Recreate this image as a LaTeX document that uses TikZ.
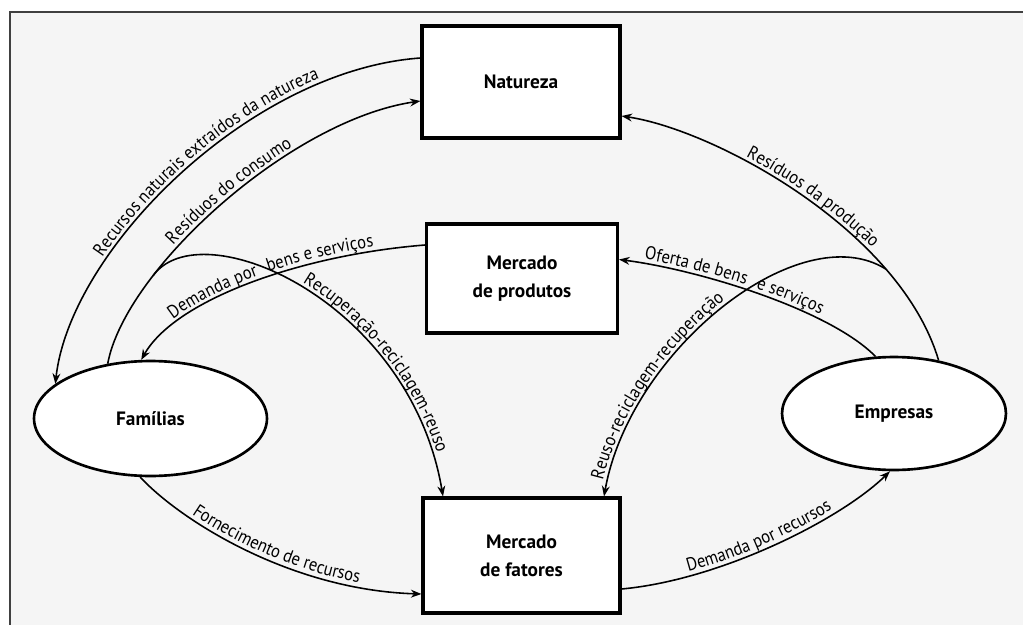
\documentclass[tikz,border=0pt]{standalone}
\usepackage{fontspec}
\setmainfont{PT Sans}[FakeStretch=0.9]
\newfontfamily\boxfont{PT Sans}
\usetikzlibrary{arrows.meta,shapes.geometric,decorations.text}

\newcommand{\lblfont}{\fontsize{10.5}{12}\selectfont}

\tikzset{
  box/.style={draw,line width=1.8pt,fill=white,inner sep=0pt,align=center,
    font=\boxfont\bfseries\fontsize{11}{16}\selectfont},
  oval/.style={ellipse,draw,line width=1.5pt,fill=white,inner sep=0pt,
    font=\boxfont\bfseries\fontsize{11}{16}\selectfont},
  flow/.style={line width=0.9pt,>={Stealth[length=6pt,width=4.5pt]}},
  flowtext/.style 2 args={postaction={decorate,decoration={text along path,
    raise=2.5pt,text align={#1},text={|\lblfont|#2}}}},
}

\begin{document}
\begin{tikzpicture}[x=0.02cm,y=0.02cm]
  \useasboundingbox (0,0) rectangle (1023,-625);
  \fill[black!4] (10,-12) rectangle (1023,-625);
  \draw[line width=1pt,black!75] (1023,-12) -- (10,-12) -- (10,-625);

  \node[box,minimum width=3.96cm,minimum height=2.24cm] (nat) at (521,-82) {Natureza};
  \node[box,minimum width=3.82cm,minimum height=2.18cm] (prod) at (522,-278.5) {Mercado\\de produtos};
  \node[box,minimum width=3.94cm,minimum height=2.3cm] (fat) at (521.5,-555.5) {Mercado\\de fatores};
  \node[oval,minimum width=4.66cm,minimum height=2.3cm] (fam) at (150.5,-418.5) {Famílias};
  \node[oval,minimum width=4.48cm,minimum height=2.26cm] (emp) at (894,-413.5) {Empresas};

  \draw[flow,<-,flowtext={center,left indent=0.64cm}{Recursos naturais extraídos da natureza}]
    (fam.160) .. controls (70,-250) and (250,-70) .. ([yshift=0.48cm]nat.west);
  \draw[flow,->,flowtext={center}{Resíduos do consumo}]
    (fam.128) .. controls (125,-270) and (290,-120) .. coordinate[pos=0.28] (rc) ([yshift=-0.38cm]nat.west);
  \draw[flow,<-,flowtext={center}{Demanda por{\hskip 6pt}bens e serviços}]
    (fam.99) .. controls (175,-300) and (300,-255) .. ([yshift=0.67cm]prod.west);
  \draw[flow,->,flowtext={left,left indent=3.2cm}{Recuperação-reciclagem-reuso}]
    (rc) .. controls (200,-210) and (410,-300) .. ([xshift=-1.57cm]fat.north);

  \draw[flow,<-,flowtext={center}{Resíduos da produção}]
    ([yshift=-0.68cm]nat.east) .. controls (715,-130) and (900,-230) .. coordinate[pos=0.75] (rr) (emp.50);
  \draw[flow,<-,flowtext={center,right indent=0.88cm}{Oferta de bens{\hskip 6pt}e serviços}]
    ([yshift=0.38cm]prod.east) .. controls (700,-270) and (830,-310) .. (emp.108);
  \draw[flow,<-,flowtext={left,left indent=0.3cm}{Reuso-reciclagem-recuperação}]
    ([xshift=1.65cm]fat.north) .. controls (630,-350) and (800,-215) .. (rr);

  \draw[flow,->,flowtext={center}{Fornecimento de recursos}]
    (fam.260) .. controls (180,-520) and (290,-590) .. ([yshift=-0.77cm]fat.west);
  \draw[flow,->,flowtext={center}{Demanda por recursos}]
    ([yshift=-0.67cm]fat.east) .. controls (720,-580) and (840,-520) .. (emp.266);
\end{tikzpicture}
\end{document}
